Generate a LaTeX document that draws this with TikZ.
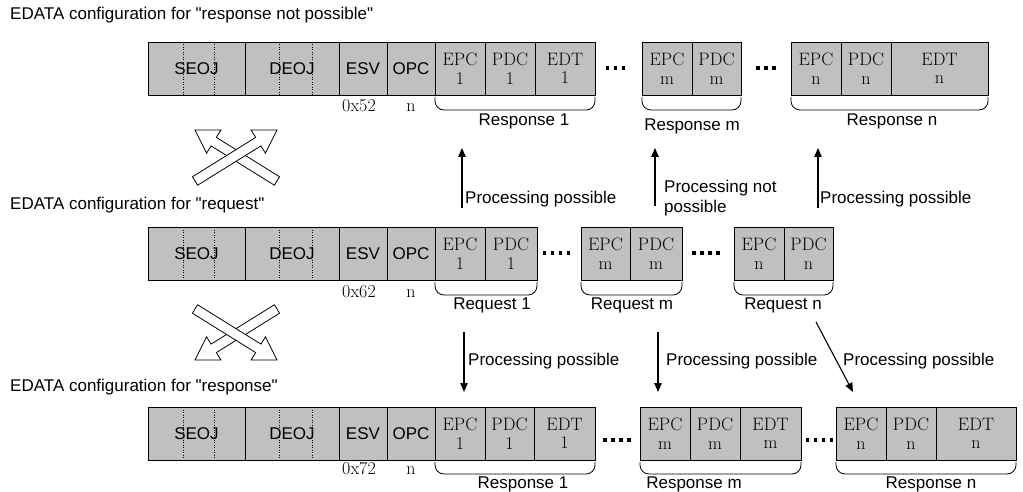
\documentclass[tikz,border=0pt]{standalone}
\usepackage{fontspec}
\newfontfamily\lsans{Liberation Sans}
\usetikzlibrary{arrows.meta}
\definecolor{cellgray}{RGB}{192,192,192}
\tikzset{
  cellbox/.style={draw=black, line width=0.9pt, fill=cellgray, minimum height=53pt, inner sep=0pt, outer sep=0pt, anchor=north west},
  sf/.style={font=\lsans\fontsize{17}{20}\selectfont},
  rm/.style={font=\fontsize{18}{18.5}\selectfont, align=center},
  lbl/.style={sf, inner sep=0pt, anchor=base},
  plbl/.style={sf, inner sep=0pt, anchor=base west},
  numlbl/.style={font=\fontsize{18}{20}\selectfont, inner sep=0pt, anchor=base},
  flow/.style={-{Triangle[length=9pt,width=7.5pt]}, line width=1.1pt},
  brc/.style={line width=0.8pt, rounded corners=9pt},
  divider/.style={line width=0.7pt, dash pattern=on 1pt off 1.5pt},
  blockarrow/.style={draw=black, fill=white, line width=0.8pt, line join=miter},
  dotsq/.style={fill=black},
}
\newcommand\cellnode[6]{\node[cellbox,#1,minimum width=#5pt] (#2) at (#3,#4) {#6};}
\newcommand\leftcells[2]{%
  \cellnode{sf}{seoj#1}{148}{#2}{97}{SEOJ}
  \cellnode{sf}{deoj#1}{245}{#2}{94}{DEOJ}
  \cellnode{sf}{esv#1}{339}{#2}{48}{ESV}
  \cellnode{sf}{opc#1}{387}{#2}{48}{OPC}
  \foreach \xx in {183,214,279,312} {\draw[divider] (\xx,#2) -- (\xx,#2+53);}
}
\newcommand\dotrow[3]{% center x, y, count
  \foreach \k in {1,...,#3} {\fill[dotsq] ({#1+(\k-(#3+1)/2)*8-1.75},{#2-1.75}) rectangle ++(3.5,3.5);}
}
\begin{document}
\begin{tikzpicture}[x=1pt,y=-1pt]
\useasboundingbox (0,0) rectangle (1023,492);

% ---------- titles ----------
\node[plbl] (t1) at (10,20) {EDATA configuration for "response not possible"};
\node[plbl] (t2) at (10,209) {EDATA configuration for "request"};
\node[plbl] (t3) at (10,391) {EDATA configuration for "response"};

% ---------- top row: response not possible ----------
\leftcells{A}{42}
\cellnode{rm}{epcA1}{435}{42}{50}{EPC\\1}
\cellnode{rm}{pdcA1}{485}{42}{50}{PDC\\1}
\cellnode{rm}{edtA1}{535}{42}{60}{EDT\\1}
\cellnode{rm}{epcAm}{642}{42}{50}{EPC\\m}
\cellnode{rm}{pdcAm}{692}{42}{49}{PDC\\m}
\cellnode{rm}{epcAn}{791}{42}{50}{EPC\\n}
\cellnode{rm}{pdcAn}{841}{42}{50}{PDC\\n}
\cellnode{rm}{edtAn}{891}{42}{97}{EDT\\n}
\dotrow{615.5}{68}{3}
\dotrow{766}{68}{3}
\node[numlbl] (esvvA) at (359,112) {0x52};
\node[numlbl] (opcvA) at (411,112) {n};
\draw[brc] ([yshift=-2pt]epcA1.south west) -- ++(0,13) -| ([yshift=-2pt]edtA1.south east);
\draw[brc] ([yshift=-2pt]epcAm.south west) -- ++(0,13) -| ([yshift=-2pt]pdcAm.south east);
\draw[brc] ([yshift=-2pt]epcAn.south west) -- ++(0,13) -| ([yshift=-2pt]edtAn.south east);
\node[lbl] (rA1) at (524,126) {Response 1};
\node[lbl] (rAm) at (692,131) {Response m};
\node[lbl] (rAn) at (892,126) {Response n};

% ---------- middle row: request ----------
\leftcells{B}{227}
\cellnode{rm}{epcB1}{435}{227}{50}{EPC\\1}
\cellnode{rm}{pdcB1}{485}{227}{52}{PDC\\1}
\cellnode{rm}{epcBm}{581}{227}{49}{EPC\\m}
\cellnode{rm}{pdcBm}{630}{227}{52}{PDC\\m}
\cellnode{rm}{epcBn}{734}{227}{50}{EPC\\n}
\cellnode{rm}{pdcBn}{784}{227}{49}{PDC\\n}
\dotrow{556.5}{253}{4}
\dotrow{706}{253}{4}
\node[numlbl] (esvvB) at (359,297) {0x62};
\node[numlbl] (opcvB) at (411,297) {n};
\draw[brc] ([yshift=-2pt]epcB1.south west) -- ++(0,13) -| ([yshift=-2pt]pdcB1.south east);
\draw[brc] ([yshift=-2pt]epcBm.south west) -- ++(0,13) -| ([yshift=-2pt]pdcBm.south east);
\draw[brc] ([yshift=-2pt]epcBn.south west) -- ++(0,13) -| ([yshift=-2pt]pdcBn.south east);
\node[lbl] (qB1) at (492,309) {Request 1};
\node[lbl] (qBm) at (632,309) {Request m};
\node[lbl] (qBn) at (783,309) {Request n};

% ---------- bottom row: response ----------
\leftcells{C}{407}
\cellnode{rm}{epcC1}{435}{407}{50}{EPC\\1}
\cellnode{rm}{pdcC1}{485}{407}{49}{PDC\\1}
\cellnode{rm}{edtC1}{534}{407}{61}{EDT\\1}
\cellnode{rm}{epcCm}{640}{407}{50}{EPC\\m}
\cellnode{rm}{pdcCm}{690}{407}{50}{PDC\\m}
\cellnode{rm}{edtCm}{740}{407}{61}{EDT\\m}
\cellnode{rm}{epcCn}{836}{407}{50}{EPC\\n}
\cellnode{rm}{pdcCn}{886}{407}{50}{PDC\\n}
\cellnode{rm}{edtCn}{936}{407}{80}{EDT\\n}
\dotrow{617}{440}{4}
\dotrow{819.5}{440}{4}
\node[numlbl] (esvvC) at (359,474) {0x72};
\node[numlbl] (opcvC) at (411,474) {n};
\draw[brc] ([yshift=-2pt]epcC1.south west) -- ++(0,12) -| ([yshift=-2pt]edtC1.south east);
\draw[brc] ([yshift=-2pt]epcCm.south west) -- ++(0,12) -| ([yshift=-2pt]edtCm.south east);
\draw[brc] ([yshift=-2pt]epcCn.south west) -- ++(0,12) -| ([yshift=-2pt]edtCn.south east);
\node[lbl] (rC1) at (523,488.5) {Response 1};
\node[lbl] (rCm) at (694,488.5) {Response m};
\node[lbl] (rCn) at (931,488.5) {Response n};

% ---------- processing arrows (request -> response not possible) ----------
\coordinate (u1s) at (462,208); \coordinate (u1e) at (462,148);
\coordinate (u2s) at (655,206); \coordinate (u2e) at (655,148);
\coordinate (u3s) at (818,208); \coordinate (u3e) at (818,148);
\draw[flow] (u1s) -- (u1e);
\draw[flow] (u2s) -- (u2e);
\draw[flow] (u3s) -- (u3e);
\node[plbl] (p1) at (465,203) {Processing possible};
\node[sf, inner sep=0pt, anchor=west, align=left] (p2) at (664,198) {Processing not\\possible};
\node[plbl] (p3) at (820,203) {Processing possible};

% ---------- processing arrows (request -> response) ----------
\coordinate (d1s) at (464,332); \coordinate (d1e) at (464,392);
\coordinate (d2s) at (658,332); \coordinate (d2e) at (658,392);
\coordinate (d3s) at (816,322); \coordinate (d3e) at (853,392);
\draw[flow] (d1s) -- (d1e);
\draw[flow] (d2s) -- (d2e);
\draw[flow] (d3s) -- (d3e);
\node[plbl] (p4) at (468,365) {Processing possible};
\node[plbl] (p5) at (666,365) {Processing possible};
\node[plbl] (p6) at (843,365) {Processing possible};

% ---------- crossed block arrows (upper) ----------
\draw[blockarrow] (279.6,176.8) -- (216.3,137.4) -- (220.8,130.1) -- (195,130) -- (206.6,153.1) -- (211.1,145.9) -- (274.4,185.2) -- cycle;
\draw[blockarrow] (192.4,176.8) -- (255.7,137.4) -- (251.2,130.1) -- (277,130) -- (265.4,153.1) -- (260.9,145.9) -- (197.6,185.2) -- cycle;

% ---------- crossed block arrows (lower) ----------
\draw[blockarrow] (279.6,313.2) -- (216.3,352.6) -- (220.8,359.9) -- (195,360) -- (206.6,336.9) -- (211.1,344.1) -- (274.4,304.8) -- cycle;
\draw[blockarrow] (192.4,313.2) -- (255.7,352.6) -- (251.2,359.9) -- (277,360) -- (265.4,336.9) -- (260.9,344.1) -- (197.6,304.8) -- cycle;
\end{tikzpicture}
\end{document}
